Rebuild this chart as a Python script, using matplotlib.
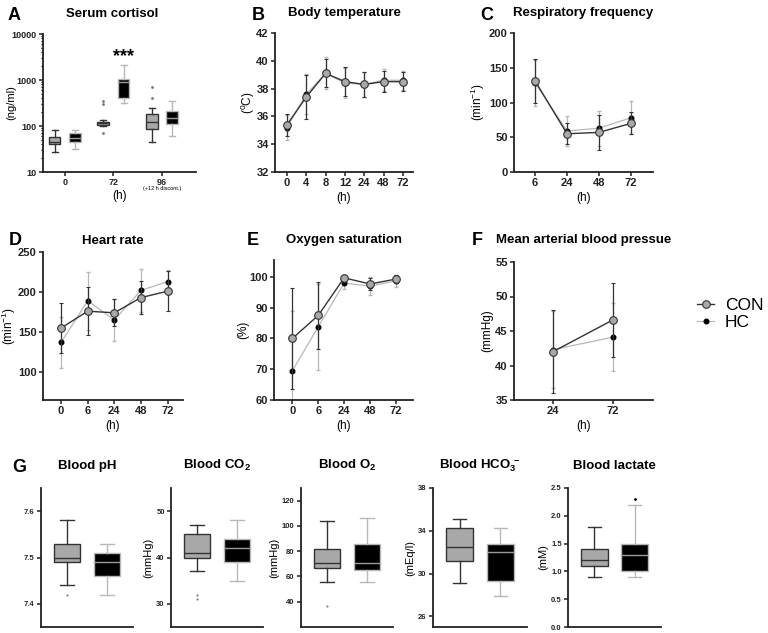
import matplotlib.pyplot as plt
from matplotlib.lines import Line2D
from matplotlib.ticker import NullFormatter

W, H = 768, 633

# A - serum cortisol (ng/ml), box statistics per time point
cort_times = ['0', '72', '96']
cort_con_lo = [27, 100, 45]
cort_con_q1 = [40, 105, 85]
cort_con_med = [45, 115, 125]
cort_con_q3 = [57, 125, 185]
cort_con_hi = [80, 135, 245]
cort_con_fliers = [[], [70, 300, 350], [400, 720]]
cort_hc_lo = [31, 320, 62]
cort_hc_q1 = [46, 400, 110]
cort_hc_med = [55, 900, 150]
cort_hc_q3 = [70, 1050, 215]
cort_hc_hi = [82, 2100, 350]
cort_hc_fliers = [[], [], []]

# B - body temperature
temp_times = ['0', '4', '8', '12', '24', '48', '72']
temp_con = [35.4, 37.4, 39.1, 38.5, 38.3, 38.5, 38.5]
temp_con_sd = [0.8, 1.6, 1.0, 1.05, 0.9, 0.75, 0.7]
temp_hc = [35.2, 37.6, 39.1, 38.4, 38.3, 38.6, 38.6]
temp_hc_sd = [0.9, 1.45, 1.15, 1.05, 0.9, 0.8, 0.7]

# C - respiratory frequency
resp_times = ['6', '24', '48', '72']
resp_con = [131, 55, 57, 70]
resp_con_sd = [32, 15, 25, 16]
resp_hc = [128, 59, 63, 78]
resp_hc_sd = [33, 21, 25, 24]

# D - heart rate
hr_times = ['0', '6', '24', '48', '72']
hr_con = [155, 176, 174, 193, 201]
hr_con_sd = [31, 30, 17, 21, 25]
hr_hc = [137, 189, 165, 202, 213]
hr_hc_sd = [32, 36, 26, 27, 15]

# E - oxygen saturation
sat_times = ['0', '6', '24', '48', '72']
sat_con = [80, 87.5, 99.7, 97.7, 99.3]
sat_con_sd = [16.5, 11, 1, 2, 1.2]
sat_hc = [69.5, 83.8, 98, 97, 98.7]
sat_hc_sd = [19.5, 14, 2, 3, 2]

# F - mean arterial blood pressure
map_times = ['24', '72']
map_con = [42, 46.6]
map_con_sd = [6, 5.4]
map_hc = [42.3, 44.1]
map_hc_sd = [5.6, 4.9]

# G - blood gases: [lo, q1, med, q3, hi], fliers
ph_con = [7.44, 7.49, 7.50, 7.53, 7.58]
ph_con_fl = [7.42]
ph_hc = [7.42, 7.46, 7.49, 7.51, 7.53]
ph_hc_fl = []
co2_con = [37, 40, 41, 45, 47]
co2_con_fl = [32, 31]
co2_hc = [35, 39, 42, 44, 48]
co2_hc_fl = []
o2_con = [56, 67, 71, 82, 104]
o2_con_fl = [37]
o2_hc = [56, 65, 71, 86, 106]
o2_hc_fl = []
hco3_con = [29.1, 31.2, 32.5, 34.3, 35.1]
hco3_con_fl = []
hco3_hc = [27.9, 29.3, 32.0, 32.8, 34.3]
hco3_hc_fl = []
lac_con = [0.9, 1.1, 1.2, 1.4, 1.8]
lac_con_fl = []
lac_hc = [0.9, 1.0, 1.3, 1.5, 2.2]
lac_hc_fl = [2.3]

plt.rcParams['font.family'] = ['Liberation Sans', 'DejaVu Sans']
plt.rcParams['mathtext.fontset'] = 'custom'
plt.rcParams['mathtext.rm'] = 'Liberation Sans'
plt.rcParams['mathtext.default'] = 'regular'

DARK = '#333333'
LIGHT = '#b8b8b8'
GREY = '#a8a8a8'

fig = plt.figure(figsize=(W / 100, H / 100), dpi=100)


def px_axes(l, t, r, b):
    ax = fig.add_axes([l / W, 1 - b / H, (r - l) / W, (b - t) / H])
    ax.px_left, ax.px_width = l, r - l
    return ax


def ylabel_at(ax, text, xpx, size=8.5):
    ax.set_ylabel(text, fontsize=size)
    ax.yaxis.set_label_coords((xpx - ax.px_left) / ax.px_width, 0.5)


def spines(ax, size=8):
    for s in ['top', 'right']:
        ax.spines[s].set_visible(False)
    for s in ['left', 'bottom']:
        ax.spines[s].set_linewidth(1.3)
        ax.spines[s].set_color('#222222')
    ax.tick_params(width=1.1, length=3, labelsize=size, pad=1.5, colors='#222222')


def stat(v, fl):
    return dict(whislo=v[0], q1=v[1], med=v[2], q3=v[3], whishi=v[4], fliers=fl)


def draw_box(ax, st, pos, width, hc, ms=2):
    if hc:
        face, edge, med, whisk, fc = 'black', LIGHT, '#9a9a9a', LIGHT, 'black'
    else:
        face, edge, med, whisk, fc = GREY, DARK, DARK, DARK, '#777777'
    ax.bxp([st], positions=[pos], widths=width, patch_artist=True,
           boxprops=dict(facecolor=face, edgecolor=edge, linewidth=1.0),
           medianprops=dict(color=med, linewidth=1.0),
           whiskerprops=dict(color=whisk, linewidth=1.0),
           capprops=dict(color=whisk, linewidth=1.0),
           flierprops=dict(marker='o', markersize=ms, markerfacecolor=fc,
                           markeredgecolor='none'),
           manage_ticks=False)


def line_panel(ax, times, con, con_sd, hc, hc_sd):
    x = list(range(len(times)))
    ax.errorbar(x, hc, yerr=hc_sd, color=LIGHT, lw=0.9, marker='o', ms=3.3,
                mfc='black', mec='black', capsize=1.5, elinewidth=0.9,
                ecolor=LIGHT, zorder=2)
    ax.errorbar(x, con, yerr=con_sd, color=DARK, lw=1.0, marker='o', ms=5.5,
                mfc=GREY, mec=DARK, mew=0.8, capsize=1.5, elinewidth=0.9,
                ecolor=DARK, zorder=3)
    ax.set_xticks(x, times, fontweight='bold')


# ---- A
axA = px_axes(43, 34, 196, 172)
spines(axA, 6.5)
for i in range(3):
    draw_box(axA, stat([cort_con_lo[i], cort_con_q1[i], cort_con_med[i], cort_con_q3[i],
                        cort_con_hi[i]], cort_con_fliers[i]), i - 0.21, 0.24, False)
    draw_box(axA, stat([cort_hc_lo[i], cort_hc_q1[i], cort_hc_med[i], cort_hc_q3[i],
                        cort_hc_hi[i]], cort_hc_fliers[i]), i + 0.21, 0.24, True)
axA.set_yscale('log')
axA.set_ylim(10, 10000)
axA.set_yticks([10, 100, 1000, 10000], ['10', '100', '1000', '10000'], fontweight='bold')
axA.yaxis.set_minor_formatter(NullFormatter())
axA.tick_params(axis='y', which='minor', length=1.5, width=0.8)
axA.set_xlim(-0.45, 2.7)
axA.set_xticks([0, 1, 2], cort_times, fontweight='bold')
axA.text(2, -0.12, '(+12 h discont.)', transform=axA.get_xaxis_transform(),
         ha='center', va='center', fontsize=4)
axA.text(1.21, 3200, '***', ha='center', va='center', fontsize=13, fontweight='bold')
ylabel_at(axA, '(ng/ml)', 16, 8)
axA.set_xlabel('(h)', fontsize=8.5, labelpad=2)
axA.set_title('Serum cortisol', fontsize=9.5, fontweight='bold', pad=12, x=0.45)

# ---- B
axB = px_axes(275, 33, 413, 172)
spines(axB)
line_panel(axB, temp_times, temp_con, temp_con_sd, temp_hc, temp_hc_sd)
axB.set_ylim(32, 42)
axB.set_yticks([32, 34, 36, 38, 40, 42], ['32', '34', '36', '38', '40', '42'], fontweight='bold')
axB.set_xlim(-0.62, 6.52)
ylabel_at(axB, '($^0$C)', 257)
axB.set_xlabel('(h)', fontsize=8.5, labelpad=3)
axB.set_title('Body temperature', fontsize=9.5, fontweight='bold', pad=12)

# ---- C
axC = px_axes(514, 33, 653, 172)
spines(axC)
line_panel(axC, resp_times, resp_con, resp_con_sd, resp_hc, resp_hc_sd)
axC.set_ylim(0, 200)
axC.set_yticks([0, 50, 100, 150, 200], ['0', '50', '100', '150', '200'], fontweight='bold')
axC.set_xlim(-0.66, 3.69)
ylabel_at(axC, '(min$^{-1}$)', 487)
axC.set_xlabel('(h)', fontsize=8.5, labelpad=3)
axC.set_title('Respiratory frequency', fontsize=9.5, fontweight='bold', pad=12)

# ---- D
axD = px_axes(43, 252, 183, 400)
spines(axD)
line_panel(axD, hr_times, hr_con, hr_con_sd, hr_hc, hr_hc_sd)
axD.set_ylim(65, 250)
axD.set_yticks([100, 150, 200, 250], ['100', '150', '200', '250'], fontweight='bold')
axD.set_xlim(-0.68, 4.58)
ylabel_at(axD, '(min$^{-1}$)', 18)
axD.set_xlabel('(h)', fontsize=8.5, labelpad=3)
axD.set_title('Heart rate', fontsize=9.5, fontweight='bold', pad=6)

# ---- E
axE = px_axes(274, 260, 413, 400)
spines(axE)
line_panel(axE, sat_times, sat_con, sat_con_sd, sat_hc, sat_hc_sd)
axE.set_ylim(60, 105.5)
axE.set_yticks([60, 70, 80, 90, 100], ['60', '70', '80', '90', '100'], fontweight='bold')
axE.set_xlim(-0.71, 4.66)
ylabel_at(axE, '(%)', 249)
axE.set_xlabel('(h)', fontsize=8.5, labelpad=3)
axE.set_title('Oxygen saturation', fontsize=9.5, fontweight='bold', pad=12)

# ---- F
axF = px_axes(514, 262, 653, 400)
spines(axF)
line_panel(axF, map_times, map_con, map_con_sd, map_hc, map_hc_sd)
axF.set_ylim(35, 55)
axF.set_yticks([35, 40, 45, 50, 55], ['35', '40', '45', '50', '55'], fontweight='bold')
axF.set_xlim(-0.65, 1.67)
ylabel_at(axF, '(mmHg)', 493)
axF.set_xlabel('(h)', fontsize=8.5, labelpad=3)
axF.set_title('Mean arterial blood pressue', fontsize=9.5, fontweight='bold', pad=14)

# legend
con_h = Line2D([], [], color=DARK, lw=1.0, marker='o', ms=5.5, mfc=GREY, mec=DARK, mew=0.8)
hc_h = Line2D([], [], color=LIGHT, lw=0.9, marker='o', ms=3.3, mfc='black', mec='black')
fig.legend([con_h, hc_h], ['CON', 'HC'], loc='center left',
           bbox_to_anchor=(690 / W, 1 - 314 / H), frameon=False, fontsize=12.5,
           handlelength=1.0, handletextpad=0.6, labelspacing=0.15, borderaxespad=0)

# ---- G
g_panels = [
    ((41, 133), 'Blood pH', None, ph_con, ph_con_fl, ph_hc, ph_hc_fl,
     (7.35, 7.65), [7.4, 7.5, 7.6], ['7.4', '7.5', '7.6']),
    ((171, 263), 'Blood CO$_2$', '(mmHg)', co2_con, co2_con_fl, co2_hc, co2_hc_fl,
     (25, 55), [30, 40, 50], ['30', '40', '50']),
    ((301, 393), 'Blood O$_2$', '(mmHg)', o2_con, o2_con_fl, o2_hc, o2_hc_fl,
     (20, 130), [40, 60, 80, 100, 120], ['40', '60', '80', '100', '120']),
    ((433, 527), 'Blood HCO$_3^{\\,-}$', '(mEq/l)', hco3_con, hco3_con_fl, hco3_hc, hco3_hc_fl,
     (25, 38), [26, 30, 34, 38], ['26', '30', '34', '38']),
    ((568, 661), 'Blood lactate', '(mM)', lac_con, lac_con_fl, lac_hc, lac_hc_fl,
     (0, 2.5), [0, 0.5, 1.0, 1.5, 2.0, 2.5], ['0.0', '0.5', '1.0', '1.5', '2.0', '2.5']),
]
for (l, r), name, ylab, con, con_fl, hc, hc_fl, ylim, ticks, labels in g_panels:
    ax = px_axes(l, 488, r, 627)
    spines(ax, 5.5)
    draw_box(ax, stat(con, con_fl), 1, 0.67, False, ms=1.5)
    draw_box(ax, stat(hc, hc_fl), 2, 0.67, True, ms=2)
    ax.set_xlim(0.35, 2.65)
    ax.set_ylim(*ylim)
    ax.set_yticks(ticks, labels, fontweight='bold')
    ax.set_xticks([])
    if ylab:
        ax.set_ylabel(ylab, fontsize=8, labelpad=2)
    ax.set_title(name, fontsize=9.5, fontweight='bold', pad=14)

# panel letters
for letter, x, y in [('A', 8, 20), ('B', 252, 20), ('C', 480, 20), ('D', 9, 245),
                     ('E', 247, 245), ('F', 472, 245), ('G', 12, 472)]:
    fig.text(x / W, 1 - y / H, letter, fontsize=13, fontweight='bold', va='baseline')

fig.savefig('out.png', dpi=100)
